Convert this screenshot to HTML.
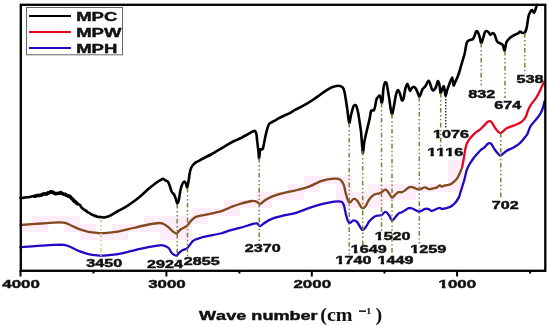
<!DOCTYPE html>
<html><head><meta charset="utf-8"><style>
html,body{margin:0;padding:0;background:#fff;width:550px;height:326px;overflow:hidden}
svg{display:block}
text{font-family:"Liberation Sans",sans-serif;font-weight:bold;fill:#111;filter:grayscale(1)}
.sf{font-family:"Liberation Serif",serif}
</style></head><body>
<svg width="550" height="326" viewBox="0 0 550 326" xmlns="http://www.w3.org/2000/svg">
<rect width="550" height="326" fill="#fff"/>
<rect x="22" y="224" width="10" height="8" fill="#fdedf8"/>
<rect x="32" y="216" width="16" height="8" fill="#fdedf8"/>
<rect x="32" y="224" width="16" height="8" fill="#fdedf8"/>
<rect x="48" y="216" width="16" height="8" fill="#fdedf8"/>
<rect x="64" y="216" width="16" height="8" fill="#fdedf8"/>
<rect x="64" y="224" width="16" height="8" fill="#fdedf8"/>
<rect x="80" y="224" width="16" height="8" fill="#fdedf8"/>
<rect x="80" y="232" width="16" height="8" fill="#fdedf8"/>
<rect x="96" y="232" width="16" height="8" fill="#fdedf8"/>
<rect x="112" y="224" width="16" height="8" fill="#fdedf8"/>
<rect x="112" y="232" width="16" height="8" fill="#fdedf8"/>
<rect x="128" y="224" width="16" height="8" fill="#fdedf8"/>
<rect x="144" y="216" width="16" height="8" fill="#fdedf8"/>
<rect x="144" y="224" width="16" height="8" fill="#fdedf8"/>
<rect x="160" y="216" width="16" height="8" fill="#fdedf8"/>
<rect x="160" y="224" width="16" height="8" fill="#fdedf8"/>
<rect x="160" y="232" width="16" height="8" fill="#fdedf8"/>
<rect x="176" y="216" width="16" height="8" fill="#fdedf8"/>
<rect x="176" y="224" width="16" height="8" fill="#fdedf8"/>
<rect x="176" y="232" width="16" height="8" fill="#fdedf8"/>
<rect x="192" y="208" width="16" height="8" fill="#fdedf8"/>
<rect x="192" y="216" width="16" height="8" fill="#fdedf8"/>
<rect x="208" y="208" width="16" height="8" fill="#fdedf8"/>
<rect x="224" y="200" width="16" height="8" fill="#fdedf8"/>
<rect x="224" y="208" width="16" height="8" fill="#fdedf8"/>
<rect x="240" y="200" width="16" height="8" fill="#fdedf8"/>
<rect x="256" y="192" width="16" height="8" fill="#fdedf8"/>
<rect x="256" y="200" width="16" height="8" fill="#fdedf8"/>
<rect x="272" y="192" width="16" height="8" fill="#fdedf8"/>
<rect x="288" y="184" width="16" height="8" fill="#fdedf8"/>
<rect x="288" y="192" width="16" height="8" fill="#fdedf8"/>
<rect x="304" y="176" width="16" height="8" fill="#fdedf8"/>
<rect x="304" y="184" width="16" height="8" fill="#fdedf8"/>
<rect x="320" y="176" width="16" height="8" fill="#fdedf8"/>
<rect x="336" y="176" width="16" height="8" fill="#fdedf8"/>
<rect x="336" y="184" width="16" height="8" fill="#fdedf8"/>
<rect x="336" y="192" width="16" height="8" fill="#fdedf8"/>
<rect x="336" y="200" width="16" height="8" fill="#fdedf8"/>
<rect x="352" y="192" width="16" height="8" fill="#fdedf8"/>
<rect x="352" y="200" width="16" height="8" fill="#fdedf8"/>
<rect x="368" y="184" width="16" height="8" fill="#fdedf8"/>
<rect x="368" y="192" width="16" height="8" fill="#fdedf8"/>
<rect x="368" y="200" width="16" height="8" fill="#fdedf8"/>
<rect x="384" y="184" width="16" height="8" fill="#fdedf8"/>
<rect x="384" y="192" width="16" height="8" fill="#fdedf8"/>
<rect x="400" y="184" width="16" height="8" fill="#fdedf8"/>
<rect x="400" y="192" width="16" height="8" fill="#fdedf8"/>
<rect x="416" y="184" width="16" height="8" fill="#fdedf8"/>
<rect x="432" y="184" width="16" height="8" fill="#fdedf8"/>
<rect x="448" y="160" width="15" height="8" fill="#fdedf8"/>
<rect x="448" y="168" width="15" height="8" fill="#fdedf8"/>
<rect x="448" y="176" width="15" height="8" fill="#fdedf8"/>
<rect x="448" y="184" width="15" height="8" fill="#fdedf8"/>
<path d="M20.50,247.20 C24.19,246.93 35.15,246.11 41.00,245.70 C46.85,245.29 48.86,245.04 53.00,244.90 C57.14,244.76 60.94,244.56 64.00,244.90 C67.06,245.24 67.25,245.68 70.00,246.80 C72.75,247.92 75.97,249.79 79.30,251.10 C82.63,252.41 85.19,253.33 88.50,254.10 C91.81,254.87 94.91,255.13 97.70,255.40 C100.49,255.67 100.35,255.83 104.00,255.60 C107.65,255.37 112.78,255.00 118.00,254.10 C123.22,253.20 127.49,251.84 133.00,250.60 C138.51,249.36 143.85,248.15 148.60,247.20 C153.35,246.25 156.63,245.57 159.40,245.30 C162.17,245.03 162.34,245.21 164.00,245.70 C165.66,246.19 167.16,246.65 168.60,248.00 C170.04,249.35 170.61,251.83 172.00,253.20 C173.39,254.57 175.04,255.65 176.30,255.60 C177.56,255.55 178.03,253.80 179.00,252.90 C179.97,252.00 180.71,251.23 181.70,250.60 C182.69,249.97 183.51,249.85 184.50,249.40 C185.49,248.95 186.21,248.96 187.20,248.10 C188.19,247.24 189.01,245.84 190.00,244.60 C190.99,243.36 191.71,242.12 192.70,241.20 C193.69,240.28 194.26,240.04 195.50,239.50 C196.74,238.96 197.89,238.72 199.60,238.20 C201.31,237.68 201.20,237.45 205.00,236.60 C208.80,235.75 216.20,234.63 220.70,233.50 C225.20,232.37 226.56,231.31 230.00,230.30 C233.44,229.29 235.82,229.00 239.80,227.90 C243.78,226.80 249.00,225.01 252.10,224.20 C255.20,223.39 255.58,223.06 257.00,223.40 C258.42,223.74 258.67,226.17 260.00,226.10 C261.33,226.03 262.28,224.31 264.40,223.00 C266.52,221.69 268.09,220.20 271.80,218.80 C275.51,217.40 280.86,216.21 285.00,215.20 C289.14,214.19 290.39,214.51 294.80,213.20 C299.21,211.89 304.64,209.52 309.50,207.90 C314.36,206.28 317.37,205.32 321.80,204.20 C326.23,203.08 330.57,202.15 334.10,201.70 C337.63,201.25 339.64,201.03 341.40,201.70 C343.16,202.37 343.02,202.83 343.90,205.40 C344.78,207.97 345.33,212.83 346.30,216.00 C347.27,219.17 348.00,222.21 349.30,223.00 C350.60,223.79 352.08,220.56 353.50,220.40 C354.92,220.24 355.65,220.43 357.20,222.10 C358.75,223.77 360.55,228.82 362.10,229.70 C363.65,230.58 364.47,228.55 365.80,227.00 C367.13,225.45 367.95,222.95 369.50,221.10 C371.05,219.25 372.64,217.71 374.40,216.70 C376.16,215.69 377.97,215.81 379.30,215.50 C380.63,215.19 380.68,215.67 381.80,215.00 C382.92,214.33 384.17,211.71 385.50,211.80 C386.83,211.89 388.01,213.95 389.20,215.50 C390.39,217.05 391.00,220.09 392.10,220.40 C393.20,220.71 394.17,218.42 395.30,217.20 C396.43,215.98 397.21,214.50 398.40,213.60 C399.59,212.70 400.66,212.81 401.90,212.20 C403.14,211.59 404.06,210.94 405.30,210.20 C406.54,209.46 407.56,208.41 408.80,208.10 C410.04,207.79 410.96,208.12 412.20,208.50 C413.44,208.88 414.46,209.64 415.70,210.20 C416.94,210.76 417.86,211.60 419.10,211.60 C420.34,211.60 421.48,210.70 422.60,210.20 C423.72,209.70 424.18,208.98 425.30,208.80 C426.42,208.62 427.67,208.82 428.80,209.20 C429.93,209.58 430.23,210.94 431.60,210.90 C432.97,210.86 434.94,209.54 436.40,209.00 C437.86,208.46 438.73,207.90 439.70,207.90 C440.67,207.90 440.85,208.93 441.80,209.00 C442.75,209.07 443.70,208.59 445.00,208.30 C446.30,208.01 447.74,207.85 449.00,207.40 C450.26,206.95 450.92,206.59 452.00,205.80 C453.08,205.01 454.05,204.04 455.00,203.00 C455.95,201.96 456.54,201.17 457.30,200.00 C458.06,198.83 458.62,197.94 459.20,196.50 C459.78,195.06 459.94,193.80 460.50,192.00 C461.06,190.20 461.67,188.48 462.30,186.50 C462.93,184.52 463.44,182.98 464.00,181.00 C464.56,179.02 464.91,177.48 465.40,175.50 C465.89,173.52 465.93,172.07 466.70,170.00 C467.47,167.93 468.44,166.16 469.70,164.00 C470.96,161.84 472.48,159.69 473.70,158.00 C474.92,156.31 475.22,156.04 476.50,154.60 C477.78,153.16 479.36,151.31 480.80,150.00 C482.24,148.69 483.29,148.38 484.50,147.30 C485.71,146.22 486.55,144.74 487.50,144.00 C488.45,143.26 489.01,143.07 489.80,143.20 C490.59,143.33 491.02,143.57 491.90,144.70 C492.78,145.83 493.58,147.88 494.70,149.50 C495.82,151.12 497.06,152.58 498.10,153.70 C499.14,154.82 499.62,155.70 500.50,155.70 C501.38,155.70 501.81,154.62 503.00,153.70 C504.19,152.78 505.37,151.64 507.10,150.60 C508.83,149.56 510.62,148.96 512.60,147.90 C514.58,146.84 516.30,146.09 518.10,144.70 C519.90,143.31 521.27,141.66 522.60,140.20 C523.93,138.74 524.64,137.72 525.50,136.60 C526.36,135.48 526.57,135.73 527.40,134.00 C528.23,132.27 528.84,129.27 530.10,127.00 C531.36,124.73 532.83,123.38 534.40,121.40 C535.97,119.42 537.61,117.60 538.80,116.00 C539.99,114.40 540.33,113.76 541.00,112.50 C541.67,111.24 542.03,110.35 542.50,109.00 C542.97,107.65 543.24,106.35 543.60,105.00 C543.96,103.65 544.34,102.13 544.50,101.50" fill="none" stroke="#2208c4" stroke-width="2.3" stroke-linejoin="round" stroke-linecap="round"/>
<path d="M20.50,225.00 C24.19,224.73 35.11,223.93 41.00,223.50 C46.89,223.07 49.06,222.74 53.20,222.60 C57.34,222.46 60.96,222.27 64.00,222.70 C67.04,223.13 67.35,223.83 70.10,225.00 C72.85,226.17 75.99,227.96 79.30,229.20 C82.61,230.44 85.19,231.22 88.50,231.90 C91.81,232.58 94.87,232.78 97.70,233.00 C100.53,233.22 100.55,233.35 104.20,233.10 C107.85,232.85 112.76,232.52 118.00,231.60 C123.24,230.68 127.79,229.28 133.30,228.00 C138.81,226.72 143.90,225.40 148.60,224.50 C153.30,223.60 156.63,223.05 159.40,223.00 C162.17,222.95 162.34,223.43 164.00,224.20 C165.66,224.97 167.16,226.13 168.60,227.30 C170.04,228.47 170.60,229.57 172.00,230.70 C173.40,231.83 175.14,233.58 176.40,233.60 C177.66,233.62 178.05,231.66 179.00,230.80 C179.95,229.94 180.71,229.41 181.70,228.80 C182.69,228.19 183.51,227.98 184.50,227.40 C185.49,226.82 186.21,226.59 187.20,225.60 C188.19,224.61 189.01,223.07 190.00,221.90 C190.99,220.73 191.71,219.96 192.70,219.10 C193.69,218.24 194.26,217.68 195.50,217.10 C196.74,216.52 197.71,216.35 199.60,215.90 C201.49,215.45 202.20,215.41 206.00,214.60 C209.80,213.79 216.38,212.68 220.70,211.40 C225.02,210.12 226.56,208.83 230.00,207.50 C233.44,206.17 235.82,205.17 239.80,204.00 C243.78,202.83 249.00,201.36 252.10,201.00 C255.20,200.64 255.58,201.46 257.00,202.00 C258.42,202.54 258.67,204.22 260.00,204.00 C261.33,203.78 262.28,202.13 264.40,200.80 C266.52,199.47 268.09,198.06 271.80,196.60 C275.51,195.14 280.86,193.78 285.00,192.70 C289.14,191.62 290.39,191.75 294.80,190.60 C299.21,189.45 304.64,188.05 309.50,186.30 C314.36,184.55 317.37,182.27 321.80,180.90 C326.23,179.53 330.82,178.95 334.10,178.70 C337.38,178.45 338.27,178.40 340.00,179.50 C341.73,180.60 342.60,182.08 343.70,184.80 C344.80,187.52 345.09,191.41 346.10,194.60 C347.11,197.79 347.97,201.71 349.30,202.50 C350.63,203.29 352.08,199.32 353.50,199.00 C354.92,198.68 355.65,199.06 357.20,200.70 C358.75,202.34 360.55,207.20 362.10,208.10 C363.65,209.00 364.47,207.34 365.80,205.70 C367.13,204.06 367.95,201.00 369.50,199.00 C371.05,197.00 372.64,195.61 374.40,194.60 C376.16,193.59 377.97,193.85 379.30,193.40 C380.63,192.95 380.68,192.77 381.80,192.10 C382.92,191.43 384.17,189.47 385.50,189.70 C386.83,189.93 388.01,192.00 389.20,193.40 C390.39,194.80 391.00,197.28 392.10,197.50 C393.20,197.72 394.17,195.55 395.30,194.60 C396.43,193.65 397.21,192.63 398.40,192.20 C399.59,191.77 400.66,192.56 401.90,192.20 C403.14,191.84 404.06,191.06 405.30,190.20 C406.54,189.34 407.56,187.96 408.80,187.40 C410.04,186.84 410.96,186.90 412.20,187.10 C413.44,187.30 414.46,188.07 415.70,188.50 C416.94,188.93 417.86,189.57 419.10,189.50 C420.34,189.43 421.48,188.48 422.60,188.10 C423.72,187.72 424.18,187.22 425.30,187.40 C426.42,187.58 427.67,188.85 428.80,189.10 C429.93,189.35 430.23,189.07 431.60,188.80 C432.97,188.53 434.94,188.21 436.40,187.60 C437.86,186.99 438.73,185.60 439.70,185.40 C440.67,185.20 440.85,186.50 441.80,186.50 C442.75,186.50 443.65,185.74 445.00,185.40 C446.35,185.06 448.04,184.98 449.30,184.60 C450.56,184.22 451.15,183.82 452.00,183.30 C452.85,182.78 453.26,182.37 454.00,181.70 C454.74,181.03 455.34,180.54 456.10,179.60 C456.86,178.66 457.46,177.83 458.20,176.50 C458.94,175.17 459.50,173.80 460.20,172.20 C460.90,170.60 461.76,168.43 462.10,167.60" fill="none" stroke="#83471c" stroke-width="2.3" stroke-linejoin="round" stroke-linecap="round"/>
<path d="M462.10,167.60 C462.33,166.36 462.90,163.60 463.40,160.70 C463.90,157.80 464.40,154.27 464.90,151.50 C465.40,148.73 465.57,147.24 466.20,145.30 C466.83,143.36 467.50,142.21 468.40,140.70 C469.30,139.19 470.01,138.27 471.20,136.90 C472.39,135.53 473.81,134.16 475.00,133.10 C476.19,132.04 476.76,131.77 477.80,131.00 C478.84,130.23 479.59,129.86 480.80,128.80 C482.01,127.74 483.29,126.32 484.50,125.10 C485.71,123.88 486.55,122.70 487.50,122.00 C488.45,121.30 489.01,121.09 489.80,121.20 C490.59,121.31 491.02,121.48 491.90,122.60 C492.78,123.72 493.58,125.78 494.70,127.40 C495.82,129.02 497.06,130.56 498.10,131.60 C499.14,132.64 499.62,133.25 500.50,133.20 C501.38,133.15 501.81,132.22 503.00,131.30 C504.19,130.38 505.12,129.14 507.10,128.10 C509.08,127.06 512.04,126.29 514.00,125.50 C515.96,124.71 516.65,124.35 518.00,123.70 C519.35,123.05 520.42,122.67 521.50,121.90 C522.58,121.13 523.17,120.46 524.00,119.40 C524.83,118.34 525.45,117.42 526.10,116.00 C526.75,114.58 527.04,112.98 527.60,111.50 C528.16,110.02 528.68,108.92 529.20,107.80 C529.72,106.68 530.00,106.15 530.50,105.30 C531.00,104.45 531.33,103.98 532.00,103.10 C532.67,102.22 533.32,101.57 534.20,100.40 C535.08,99.23 535.95,98.15 536.90,96.60 C537.85,95.05 538.62,93.62 539.50,91.80 C540.38,89.98 540.90,88.35 541.80,86.50 C542.70,84.65 544.01,82.40 544.50,81.50" fill="none" stroke="#e8041e" stroke-width="2.3" stroke-linejoin="round" stroke-linecap="butt"/>
<path d="M20.50,198.00 C20.79,197.99 22.08,197.98 22.90,197.90 C23.72,197.82 26.26,197.47 27.30,197.30 C28.34,197.13 30.91,196.65 31.60,196.50 C32.29,196.35 32.70,196.12 33.05,196.09 C33.40,196.05 34.18,196.21 34.50,196.20 C34.82,196.19 35.44,196.08 35.73,196.01 C36.03,195.94 36.67,195.66 36.97,195.60 C37.26,195.54 37.91,195.52 38.20,195.50 C38.49,195.48 39.11,195.44 39.40,195.40 C39.69,195.37 40.31,195.29 40.60,195.23 C40.89,195.17 41.51,195.03 41.80,194.90 C42.09,194.77 42.74,194.30 43.03,194.17 C43.33,194.04 43.97,193.83 44.27,193.81 C44.56,193.79 45.21,193.99 45.50,194.00 C45.79,194.01 46.41,194.06 46.70,193.94 C46.99,193.81 47.61,193.10 47.90,192.96 C48.19,192.82 48.74,192.94 49.10,192.80 C49.46,192.66 50.53,191.90 50.90,191.80 C51.27,191.70 51.89,191.84 52.20,191.93 C52.51,192.03 53.17,192.40 53.50,192.60 C53.83,192.80 54.60,193.48 54.95,193.60 C55.30,193.72 56.10,193.62 56.40,193.60 C56.70,193.58 57.20,193.46 57.45,193.42 C57.70,193.38 58.25,193.32 58.50,193.30 C58.75,193.28 59.30,193.37 59.55,193.29 C59.80,193.20 60.33,192.62 60.60,192.60 C60.87,192.58 61.49,192.96 61.77,193.11 C62.05,193.25 62.65,193.67 62.93,193.81 C63.21,193.94 63.84,194.15 64.10,194.20 C64.36,194.25 64.89,194.14 65.13,194.25 C65.38,194.36 65.92,195.00 66.17,195.13 C66.41,195.27 66.93,195.28 67.20,195.40 C67.47,195.52 68.15,196.07 68.45,196.17 C68.75,196.26 69.37,195.98 69.70,196.20 C70.03,196.42 70.84,197.63 71.20,198.00 C71.56,198.37 72.40,198.99 72.70,199.30 C73.00,199.61 73.42,200.31 73.70,200.60 C73.98,200.89 74.69,201.46 75.00,201.72 C75.31,201.99 76.02,202.57 76.30,202.80 C76.58,203.03 77.06,203.48 77.30,203.64 C77.54,203.81 78.06,204.06 78.30,204.17 C78.54,204.29 79.06,204.46 79.30,204.60 C79.54,204.74 80.06,205.05 80.30,205.36 C80.54,205.68 81.06,206.92 81.30,207.26 C81.54,207.60 82.06,207.98 82.30,208.20 C82.54,208.42 83.09,208.92 83.33,209.09 C83.58,209.26 84.12,209.42 84.37,209.60 C84.61,209.78 85.16,210.46 85.40,210.60 C85.64,210.74 86.16,210.54 86.40,210.73 C86.64,210.92 87.16,211.97 87.40,212.17 C87.64,212.36 88.16,212.27 88.40,212.37 C88.64,212.47 89.16,212.84 89.40,213.00 C89.64,213.16 90.18,213.57 90.43,213.74 C90.67,213.92 91.20,214.30 91.45,214.43 C91.70,214.55 92.23,214.71 92.47,214.79 C92.72,214.87 93.25,214.96 93.50,215.10 C93.75,215.24 94.30,215.86 94.55,215.95 C94.80,216.04 95.35,215.76 95.60,215.84 C95.85,215.93 96.40,216.56 96.65,216.68 C96.90,216.79 97.17,216.75 97.70,216.80 C98.23,216.85 100.32,217.02 101.10,217.10 C101.88,217.18 103.10,217.68 104.20,217.50 C105.30,217.32 108.64,216.38 110.30,215.60 C111.96,214.82 116.15,212.04 118.00,211.00 C119.85,209.96 123.86,208.00 125.70,206.90 C127.54,205.80 131.46,203.14 133.30,201.80 C135.14,200.46 139.16,197.26 141.00,195.70 C142.84,194.14 146.76,190.36 148.60,188.80 C150.44,187.24 154.73,183.84 156.30,182.70 C157.87,181.56 160.88,179.77 161.70,179.30 C162.52,178.83 162.64,178.67 163.10,178.80 C163.56,178.93 164.91,180.05 165.50,180.40 C166.09,180.75 167.48,181.03 168.00,181.70 C168.52,182.37 169.36,184.76 169.80,186.00 C170.24,187.24 171.18,190.98 171.70,192.00 C172.22,193.02 173.58,193.61 174.10,194.50 C174.62,195.39 175.63,198.33 176.00,199.40 C176.37,200.47 176.88,203.24 177.20,203.40 C177.52,203.56 178.34,202.13 178.70,200.70 C179.06,199.27 179.79,193.44 180.20,191.50 C180.61,189.56 181.57,185.70 182.10,184.50 C182.63,183.30 184.13,181.58 184.60,181.50 C185.07,181.42 185.69,183.08 186.00,183.80 C186.31,184.52 186.88,187.90 187.20,187.50 C187.52,187.10 188.42,182.06 188.70,180.50 C188.98,178.94 189.30,175.76 189.50,174.50 C189.70,173.24 190.14,170.92 190.40,170.00 C190.66,169.08 191.32,167.47 191.70,166.80 C192.08,166.13 193.06,164.95 193.60,164.40 C194.14,163.85 195.58,162.62 196.20,162.20 C196.82,161.78 198.10,161.28 198.80,160.90 C199.50,160.52 201.27,159.41 202.00,159.00 C202.73,158.59 203.82,158.04 204.90,157.50 C205.98,156.96 209.34,155.42 211.00,154.50 C212.66,153.58 216.85,150.89 218.70,149.80 C220.55,148.71 224.55,146.46 226.40,145.40 C228.25,144.34 232.26,141.94 234.10,141.00 C235.94,140.06 239.86,138.51 241.70,137.60 C243.54,136.69 247.90,134.20 249.40,133.40 C250.90,132.60 253.37,130.89 254.20,130.90 C255.03,130.91 255.93,132.16 256.30,133.50 C256.67,134.84 257.04,139.89 257.30,142.10 C257.56,144.31 258.28,149.94 258.50,151.90 C258.72,153.86 258.88,158.70 259.10,158.40 C259.32,158.10 259.86,150.55 260.30,149.40 C260.74,148.25 262.21,150.26 262.80,148.80 C263.39,147.34 264.66,139.62 265.20,137.20 C265.74,134.78 266.86,130.15 267.30,128.60 C267.74,127.05 268.52,124.97 268.90,124.30 C269.28,123.63 269.85,123.41 270.50,123.00 C271.15,122.59 273.33,121.45 274.30,120.90 C275.27,120.35 277.44,119.02 278.60,118.40 C279.76,117.78 282.72,116.30 284.00,115.70 C285.28,115.10 287.98,114.10 289.30,113.40 C290.62,112.70 293.58,110.68 295.00,109.90 C296.42,109.12 299.62,107.68 301.10,106.90 C302.58,106.12 305.82,104.29 307.30,103.40 C308.78,102.51 311.94,100.48 313.40,99.50 C314.86,98.52 318.04,96.23 319.50,95.20 C320.96,94.17 324.28,91.78 325.60,90.90 C326.92,90.02 329.47,88.42 330.50,87.90 C331.53,87.38 333.31,86.85 334.20,86.60 C335.09,86.35 337.01,85.80 337.90,85.80 C338.79,85.80 340.94,86.28 341.60,86.60 C342.26,86.92 343.02,87.68 343.40,88.50 C343.78,89.32 344.46,91.78 344.80,93.40 C345.14,95.02 345.90,100.08 346.20,102.00 C346.50,103.92 346.94,106.88 347.30,109.40 C347.66,111.92 348.74,122.36 349.20,123.00 C349.66,123.64 350.57,116.73 351.10,114.70 C351.63,112.67 353.01,107.22 353.60,106.10 C354.19,104.98 355.45,104.57 356.00,105.40 C356.55,106.23 357.77,111.02 358.20,113.00 C358.63,114.98 359.26,119.67 359.60,121.90 C359.94,124.13 360.72,129.12 361.00,131.60 C361.28,134.08 361.68,140.03 361.90,142.60 C362.12,145.17 362.60,152.35 362.80,153.00 C363.00,153.65 363.43,149.25 363.60,148.00 C363.77,146.75 363.94,144.16 364.20,142.60 C364.46,141.04 365.36,136.99 365.80,135.00 C366.24,133.01 367.43,128.00 367.90,126.00 C368.37,124.00 369.34,120.04 369.70,118.30 C370.06,116.56 370.61,112.46 370.90,111.50 C371.19,110.54 371.73,110.44 372.10,110.30 C372.47,110.16 373.63,110.82 374.00,110.30 C374.37,109.78 374.94,107.18 375.20,106.00 C375.46,104.82 375.97,101.46 376.20,100.50 C376.43,99.54 376.85,98.44 377.10,98.00 C377.35,97.56 378.01,97.10 378.30,96.80 C378.59,96.50 379.21,95.36 379.50,95.50 C379.79,95.64 380.45,97.11 380.70,98.00 C380.95,98.89 381.37,102.72 381.60,102.90 C381.83,103.08 382.40,101.11 382.60,99.50 C382.80,97.89 383.04,91.50 383.30,89.50 C383.56,87.50 384.42,83.58 384.80,82.80 C385.18,82.02 386.16,82.28 386.50,83.00 C386.84,83.72 387.25,86.77 387.60,88.80 C387.95,90.83 389.02,97.40 389.40,99.90 C389.78,102.40 390.46,107.86 390.80,109.60 C391.14,111.34 391.84,114.74 392.20,114.40 C392.56,114.06 393.40,108.88 393.80,106.80 C394.20,104.72 395.13,98.92 395.50,97.10 C395.87,95.28 396.58,92.43 396.90,91.60 C397.22,90.77 397.83,89.95 398.20,90.20 C398.57,90.45 399.62,92.62 400.00,93.70 C400.38,94.78 401.15,98.37 401.40,99.20 C401.65,100.03 401.85,100.62 402.10,100.60 C402.35,100.58 403.13,100.34 403.50,99.00 C403.87,97.66 404.74,91.20 405.20,89.40 C405.66,87.60 406.86,84.20 407.30,84.00 C407.74,83.80 408.58,86.86 408.90,87.70 C409.22,88.54 409.68,90.93 410.00,91.00 C410.32,91.07 411.14,88.82 411.60,88.30 C412.06,87.78 413.28,86.64 413.80,86.70 C414.32,86.76 415.38,87.96 415.90,88.80 C416.42,89.64 417.69,92.73 418.10,93.70 C418.51,94.67 418.99,96.84 419.30,96.90 C419.61,96.96 420.33,95.10 420.70,94.20 C421.07,93.30 421.94,90.24 422.40,89.40 C422.86,88.56 424.06,87.72 424.50,87.20 C424.94,86.68 425.64,85.87 426.10,85.10 C426.56,84.33 427.84,81.06 428.30,80.80 C428.76,80.54 429.52,82.00 429.90,82.90 C430.28,83.80 431.13,87.40 431.50,88.30 C431.87,89.20 432.69,90.20 433.00,90.40 C433.31,90.60 433.74,90.41 434.10,90.00 C434.46,89.59 435.56,88.07 436.00,87.00 C436.44,85.93 437.39,81.40 437.80,81.10 C438.21,80.80 439.06,83.06 439.40,84.50 C439.74,85.94 440.28,92.51 440.60,93.10 C440.92,93.69 441.70,90.20 442.10,89.40 C442.50,88.60 443.49,85.66 443.90,86.40 C444.31,87.14 445.13,95.08 445.50,95.60 C445.87,96.12 446.53,92.10 447.00,90.70 C447.47,89.30 448.78,85.50 449.40,83.90 C450.02,82.30 451.70,77.23 452.20,77.40 C452.70,77.57 453.26,84.69 453.60,85.30 C453.94,85.91 454.59,83.34 455.00,82.50 C455.41,81.66 456.48,79.56 457.00,78.30 C457.52,77.04 458.82,73.48 459.30,72.00 C459.78,70.52 460.58,67.44 461.00,66.00 C461.42,64.56 462.37,61.44 462.80,60.00 C463.23,58.56 464.29,55.26 464.60,54.00 C464.91,52.74 465.21,50.58 465.40,49.50 C465.59,48.42 466.00,45.91 466.20,45.00 C466.40,44.09 466.72,42.49 467.10,41.90 C467.48,41.31 468.75,40.41 469.40,40.10 C470.05,39.79 471.92,39.68 472.50,39.30 C473.08,38.92 473.82,37.74 474.20,36.90 C474.58,36.06 475.34,32.98 475.70,32.30 C476.06,31.62 476.78,30.84 477.20,31.20 C477.62,31.56 478.73,33.88 479.20,35.30 C479.67,36.72 480.69,42.45 481.10,43.00 C481.51,43.55 482.14,41.18 482.60,39.90 C483.06,38.62 484.44,33.37 484.90,32.30 C485.36,31.23 485.94,31.00 486.40,31.00 C486.86,31.00 488.23,31.82 488.70,32.30 C489.17,32.78 489.83,34.92 490.30,35.00 C490.77,35.08 492.08,33.05 492.60,33.00 C493.12,32.95 494.14,33.77 494.60,34.60 C495.06,35.43 496.00,38.99 496.40,39.90 C496.80,40.81 497.35,41.73 497.90,42.20 C498.45,42.67 500.41,43.46 501.00,43.80 C501.59,44.14 502.37,44.18 502.80,45.00 C503.23,45.82 504.17,50.92 504.60,50.60 C505.03,50.28 505.85,43.74 506.40,42.30 C506.95,40.86 508.54,39.31 509.20,38.60 C509.86,37.89 511.24,36.84 511.90,36.40 C512.56,35.96 513.92,35.30 514.70,34.90 C515.48,34.50 517.78,33.50 518.40,33.10 C519.02,32.70 519.46,31.65 519.90,31.60 C520.34,31.55 521.51,32.57 522.10,32.70 C522.69,32.83 524.25,33.31 524.80,32.70 C525.35,32.09 526.26,29.54 526.70,27.60 C527.14,25.66 528.07,18.38 528.50,16.50 C528.93,14.62 529.86,12.67 530.30,11.90 C530.74,11.13 531.76,9.98 532.20,10.10 C532.64,10.22 533.60,12.97 534.00,12.90 C534.40,12.83 535.16,10.45 535.50,9.50 C535.84,8.55 536.64,5.54 536.80,5.00" fill="none" stroke="#000" stroke-width="2.6" stroke-linejoin="round" stroke-linecap="round"/>
<path d="M34.50,196.20 C34.65,196.18 35.44,196.08 35.73,196.01 C36.03,195.94 36.67,195.66 36.97,195.60 C37.26,195.54 37.91,195.52 38.20,195.50 C38.49,195.48 39.11,195.44 39.40,195.40 C39.69,195.37 40.31,195.29 40.60,195.23 C40.89,195.17 41.51,195.03 41.80,194.90 C42.09,194.77 42.74,194.30 43.03,194.17 C43.33,194.04 43.97,193.83 44.27,193.81 C44.56,193.79 45.21,193.99 45.50,194.00 C45.79,194.01 46.41,194.06 46.70,193.94 C46.99,193.81 47.61,193.10 47.90,192.96 C48.19,192.82 48.74,192.94 49.10,192.80 C49.46,192.66 50.53,191.90 50.90,191.80 C51.27,191.70 51.89,191.84 52.20,191.93 C52.51,192.03 53.17,192.40 53.50,192.60 C53.83,192.80 54.60,193.48 54.95,193.60 C55.30,193.72 56.10,193.62 56.40,193.60 C56.70,193.58 57.20,193.46 57.45,193.42 C57.70,193.38 58.25,193.32 58.50,193.30 C58.75,193.28 59.30,193.37 59.55,193.29 C59.80,193.20 60.33,192.62 60.60,192.60 C60.87,192.58 61.49,192.96 61.77,193.11 C62.05,193.25 62.65,193.67 62.93,193.81 C63.21,193.94 63.84,194.15 64.10,194.20 C64.36,194.25 64.89,194.14 65.13,194.25 C65.38,194.36 65.92,195.00 66.17,195.13 C66.41,195.27 66.93,195.28 67.20,195.40 C67.47,195.52 68.15,196.07 68.45,196.17 C68.75,196.26 69.37,195.98 69.70,196.20 C70.03,196.42 70.84,197.63 71.20,198.00 C71.56,198.37 72.40,198.99 72.70,199.30 C73.00,199.61 73.42,200.31 73.70,200.60 C73.98,200.89 74.69,201.46 75.00,201.72 C75.31,201.99 76.02,202.57 76.30,202.80 C76.58,203.03 77.18,203.54 77.30,203.64" fill="none" stroke="#000" stroke-width="3.6" stroke-linejoin="round" stroke-linecap="round"/>
<line x1="101.0" y1="218" x2="101.0" y2="256" stroke="#c3cf98" stroke-width="1.5" stroke-dasharray="4.6 2.5 1.4 2.5 1.4 2.5"/>
<line x1="177.2" y1="204" x2="177.2" y2="262" stroke="#7f7f33" stroke-width="1.5" stroke-dasharray="4.6 2.5 1.4 2.5 1.4 2.5"/>
<line x1="187.5" y1="188" x2="187.5" y2="258" stroke="#7f7f33" stroke-width="1.5" stroke-dasharray="4.6 2.5 1.4 2.5 1.4 2.5"/>
<line x1="259.2" y1="158" x2="259.2" y2="244" stroke="#7f7f33" stroke-width="1.5" stroke-dasharray="4.6 2.5 1.4 2.5 1.4 2.5"/>
<line x1="349.2" y1="123" x2="349.2" y2="255" stroke="#7f7f33" stroke-width="1.5" stroke-dasharray="4.6 2.5 1.4 2.5 1.4 2.5"/>
<line x1="362.7" y1="151" x2="362.7" y2="245" stroke="#7f7f33" stroke-width="1.5" stroke-dasharray="4.6 2.5 1.4 2.5 1.4 2.5"/>
<line x1="381.5" y1="103" x2="381.5" y2="231" stroke="#7f7f33" stroke-width="1.5" stroke-dasharray="4.6 2.5 1.4 2.5 1.4 2.5"/>
<line x1="392.0" y1="114" x2="392.0" y2="254" stroke="#7f7f33" stroke-width="1.5" stroke-dasharray="4.6 2.5 1.4 2.5 1.4 2.5"/>
<line x1="419.3" y1="97" x2="419.3" y2="244" stroke="#7f7f33" stroke-width="1.5" stroke-dasharray="4.6 2.5 1.4 2.5 1.4 2.5"/>
<line x1="440.7" y1="93" x2="440.7" y2="147.5" stroke="#7f7f33" stroke-width="1.5" stroke-dasharray="4.6 2.5 1.4 2.5 1.4 2.5"/>
<line x1="445.7" y1="96" x2="445.7" y2="128" stroke="#222" stroke-width="1.3" stroke-dasharray="1.5 1.5"/>
<line x1="481.2" y1="43" x2="481.2" y2="86" stroke="#7f7f33" stroke-width="1.5" stroke-dasharray="4.6 2.5 1.4 2.5 1.4 2.5"/>
<line x1="505.0" y1="51" x2="505.0" y2="98" stroke="#7f7f33" stroke-width="1.5" stroke-dasharray="4.6 2.5 1.4 2.5 1.4 2.5"/>
<line x1="524.8" y1="33" x2="524.8" y2="74" stroke="#7f7f33" stroke-width="1.5" stroke-dasharray="4.6 2.5 1.4 2.5 1.4 2.5"/>
<line x1="500.8" y1="133" x2="500.8" y2="198" stroke="#7f7f33" stroke-width="1.5" stroke-dasharray="4.6 2.5 1.4 2.5 1.4 2.5"/>
<rect x="20.8" y="4.8" width="524.5" height="266.0" fill="none" stroke="#000" stroke-width="2.3"/>
<line x1="20.5" y1="270" x2="20.5" y2="276.5" stroke="#000" stroke-width="2"/>
<line x1="166.4" y1="270" x2="166.4" y2="276.5" stroke="#000" stroke-width="2"/>
<line x1="311.8" y1="270" x2="311.8" y2="276.5" stroke="#000" stroke-width="2"/>
<line x1="457.1" y1="270" x2="457.1" y2="276.5" stroke="#000" stroke-width="2"/>
<line x1="93.4" y1="270" x2="93.4" y2="273.5" stroke="#000" stroke-width="2"/>
<line x1="239.4" y1="270" x2="239.4" y2="273.5" stroke="#000" stroke-width="2"/>
<line x1="384.5" y1="270" x2="384.5" y2="273.5" stroke="#000" stroke-width="2"/>
<line x1="530.1" y1="270" x2="530.1" y2="273.5" stroke="#000" stroke-width="2"/>
<mask id="m1" maskUnits="userSpaceOnUse" x="0" y="0" width="550" height="326"><rect width="550" height="326" fill="#fff"/><rect x="438.35" y="285.33" width="3.48" height="4.02" fill="#000"/><rect x="445.41" y="285.33" width="2.45" height="4.02" fill="#000"/><rect x="335.33" y="261.13" width="3.36" height="3.97" fill="#000"/><rect x="342.16" y="261.13" width="2.33" height="3.97" fill="#000"/><rect x="350.60" y="250.33" width="3.36" height="3.97" fill="#000"/><rect x="357.43" y="250.33" width="2.33" height="3.97" fill="#000"/><rect x="374.43" y="237.13" width="3.36" height="3.97" fill="#000"/><rect x="381.26" y="237.13" width="2.33" height="3.97" fill="#000"/><rect x="377.30" y="261.13" width="3.36" height="3.97" fill="#000"/><rect x="384.13" y="261.13" width="2.33" height="3.97" fill="#000"/><rect x="410.10" y="250.33" width="3.36" height="3.97" fill="#000"/><rect x="416.93" y="250.33" width="2.33" height="3.97" fill="#000"/><rect x="427.03" y="153.23" width="3.36" height="3.97" fill="#000"/><rect x="433.86" y="153.23" width="2.33" height="3.97" fill="#000"/><rect x="436.02" y="153.23" width="3.36" height="3.97" fill="#000"/><rect x="442.86" y="153.23" width="2.33" height="3.97" fill="#000"/><rect x="445.01" y="153.23" width="3.36" height="3.97" fill="#000"/><rect x="451.85" y="153.23" width="2.33" height="3.97" fill="#000"/><rect x="432.79" y="134.83" width="3.36" height="3.97" fill="#000"/><rect x="439.62" y="134.83" width="2.33" height="3.97" fill="#000"/></mask>
<g mask="url(#m1)"><text x="0.000 6.396 12.792 19.187" transform="translate(2.321,288.327) scale(1.47,1)" font-size="11.5" stroke="#111" stroke-width="0.45">4000</text><text x="0.000 6.396 12.792 19.187" transform="translate(148.154,288.327) scale(1.47,1)" font-size="11.5" stroke="#111" stroke-width="0.45">3000</text><text x="0.000 6.396 12.792 19.187" transform="translate(293.452,288.327) scale(1.47,1)" font-size="11.5" stroke="#111" stroke-width="0.45">2000</text><text x="0.000 6.396 12.792 19.187" transform="translate(438.516,288.327) scale(1.47,1)" font-size="11.5" stroke="#111" stroke-width="0.45">1000</text><text x="0.000 6.118 12.235 18.353" transform="translate(86.264,267.078) scale(1.47,1)" font-size="11.0" stroke="#111" stroke-width="0.45">3450</text><text x="0.000 6.118 12.235 18.353" transform="translate(146.976,267.678) scale(1.47,1)" font-size="11.0" stroke="#111" stroke-width="0.45">2924</text><text x="0.000 6.118 12.235 18.353" transform="translate(183.762,265.478) scale(1.47,1)" font-size="11.0" stroke="#111" stroke-width="0.45">2855</text><text x="0.000 6.118 12.235 18.353" transform="translate(244.717,252.478) scale(1.47,1)" font-size="11.0" stroke="#111" stroke-width="0.45">2370</text><text x="0.000 6.118 12.235 18.353" transform="translate(335.541,264.078) scale(1.47,1)" font-size="11.0" stroke="#111" stroke-width="0.45">1740</text><text x="0.000 6.118 12.235 18.353" transform="translate(350.809,253.278) scale(1.47,1)" font-size="11.0" stroke="#111" stroke-width="0.45">1649</text><text x="0.000 6.118 12.235 18.353" transform="translate(374.641,240.078) scale(1.47,1)" font-size="11.0" stroke="#111" stroke-width="0.45">1520</text><text x="0.000 6.118 12.235 18.353" transform="translate(377.509,264.078) scale(1.47,1)" font-size="11.0" stroke="#111" stroke-width="0.45">1449</text><text x="0.000 6.118 12.235 18.353" transform="translate(410.309,253.278) scale(1.47,1)" font-size="11.0" stroke="#111" stroke-width="0.45">1259</text><text x="0.000 6.118 12.235 18.353" transform="translate(427.240,156.178) scale(1.47,1)" font-size="11.0" stroke="#111" stroke-width="0.45">1116</text><text x="0.000 6.118 12.235 18.353" transform="translate(433.001,137.778) scale(1.47,1)" font-size="11.0" stroke="#111" stroke-width="0.45">1076</text><text x="0.000 6.118 12.235" transform="translate(468.279,98.078) scale(1.47,1)" font-size="11.0" stroke="#111" stroke-width="0.45">832</text><text x="0.000 6.118 12.235" transform="translate(494.205,109.078) scale(1.47,1)" font-size="11.0" stroke="#111" stroke-width="0.45">674</text><text x="0.000 6.118 12.235" transform="translate(516.564,82.978) scale(1.47,1)" font-size="11.0" stroke="#111" stroke-width="0.45">538</text><text x="0.000 6.118 12.235" transform="translate(491.690,208.778) scale(1.47,1)" font-size="11.0" stroke="#111" stroke-width="0.45">702</text></g>
<rect x="26.5" y="7.5" width="96" height="47.3" fill="#fff" stroke="#666" stroke-width="1"/>
<line x1="29" y1="16.0" x2="71" y2="16.0" stroke="#000" stroke-width="2.1"/>
<text x="0.000 11.246 20.250" transform="translate(76.161,21.023) scale(1.37,1)" font-size="13.5" stroke="#111" stroke-width="0.45">MPC</text>
<line x1="29" y1="32.0" x2="71" y2="32.0" stroke="#e8041e" stroke-width="2.1"/>
<text x="0.000 11.246 20.250" transform="translate(76.161,36.888) scale(1.37,1)" font-size="13.5" stroke="#111" stroke-width="0.45">MPW</text>
<line x1="29" y1="48.0" x2="71" y2="48.0" stroke="#2208c4" stroke-width="2.1"/>
<text x="0.000 11.246 20.250" transform="translate(76.161,52.888) scale(1.37,1)" font-size="13.5" stroke="#111" stroke-width="0.45">MPH</text>
<text x="0.000 12.836 20.400 27.964 35.527 39.306 47.613 55.921 68.013 76.321 83.884" transform="translate(199.060,319.960) scale(1.33,1)" font-size="13.6" stroke="#111" stroke-width="0.45">Wave number</text>
<text class="sf" transform="translate(320.2,320.8) scale(1.087,1)" font-size="18.5">(cm</text>
<rect x="359" y="310.4" width="7" height="1.5" fill="#111"/>
<text class="sf" x="366.5" y="314" font-size="9" stroke="#111" stroke-width="0.2">1</text>
<text class="sf" transform="translate(375.5,320.8) scale(1.087,1)" font-size="18.5">)</text>
</svg></body></html>
